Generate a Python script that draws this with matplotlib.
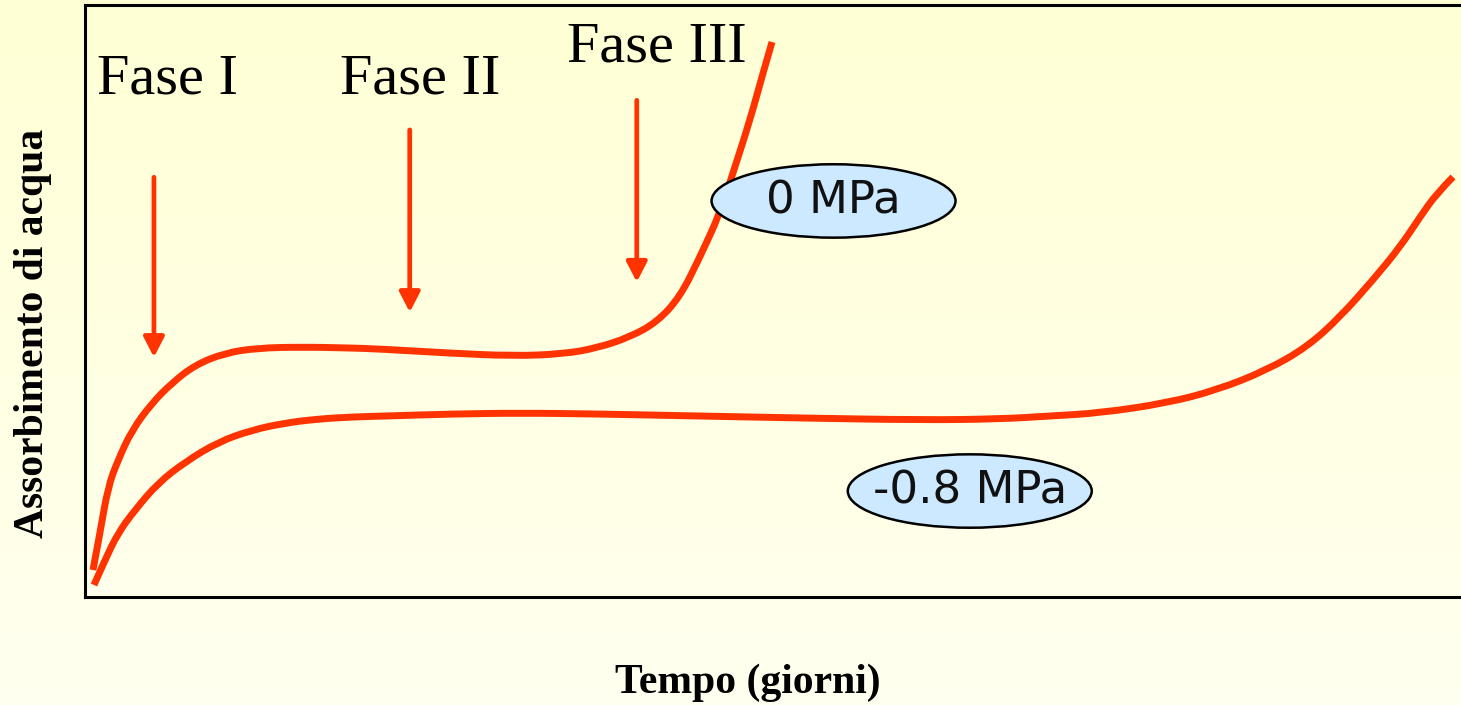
import numpy as np
import matplotlib
matplotlib.use("Agg")
import matplotlib.pyplot as plt
from matplotlib.patches import Ellipse, PathPatch
from matplotlib.path import Path

# Data (time in arbitrary units 0-100, water uptake in arbitrary units 0-100)
t_0mpa = [0.58, 1.09, 1.67, 2.40, 3.42, 4.87, 6.32, 7.99, 10.17, 12.57, 15.77, 19.40, 21.44,
          26.31, 31.10, 34.74, 37.21, 39.61, 41.57, 43.24, 44.69, 46.15, 47.09, 48.33, 49.27, 49.93]
v_0mpa = [4.56, 10.81, 18.58, 23.14, 28.21, 32.77, 36.15, 39.19, 41.22, 42.06, 42.23, 42.06, 41.89,
          41.22, 40.71, 41.05, 42.06, 43.92, 46.45, 50.68, 57.43, 64.86, 71.62, 80.57, 88.51, 93.75]

t_08mpa = [0.65, 1.45, 2.40, 3.63, 5.31, 7.27, 9.67, 12.14, 14.53, 16.93, 19.40, 21.80, 26.53,
           31.69, 37.43, 44.69, 51.96, 60.83, 66.50, 70.13, 73.76, 78.63, 82.27, 85.90, 88.81,
           91.21, 93.60, 95.57, 97.02, 98.26, 99.42]
v_08mpa = [2.03, 6.25, 10.81, 14.70, 19.26, 22.80, 26.18, 28.21, 29.39, 30.07, 30.41, 30.57, 30.91,
           31.08, 30.91, 30.57, 30.24, 29.90, 30.07, 30.57, 31.08, 32.77, 34.97, 38.34, 42.23,
           47.30, 53.55, 59.12, 64.19, 68.24, 70.95]

phase_labels = ["Fase I", "Fase II", "Fase III"]
phase_label_x = [0.87, 18.5, 35.0]
phase_label_y = [85.1, 85.1, 90.4]
arrow_x = [5.01, 23.6, 40.1]
arrow_top = [70.9, 78.9, 83.9]
arrow_bottom = [40.5, 48.1, 53.2]

series_labels = ["0 MPa", "-0.8 MPa"]
label_cx = [54.4, 64.3]
label_cy = [66.9, 17.9]

W, H = 1461, 705
fig = plt.figure(figsize=(W / 100, H / 100), dpi=100)

# background gradient
bg = fig.add_axes([0, 0, 1, 1], zorder=-10)
grad = np.linspace(0, 1, 256).reshape(-1, 1)
top = np.array([1.0, 1.0, 0.835])
bot = np.array([1.0, 1.0, 0.94])
img = top[None, None, :] * (1 - grad[:, :, None]) + bot[None, None, :] * grad[:, :, None]
bg.imshow(img, aspect="auto", extent=[0, 1, 0, 1])
bg.axis("off")

ax = fig.add_axes([85 / W, (H - 597) / H, 1376 / W, 592 / H])
ax.patch.set_alpha(0)
ax.set_xlim(0, 100)
ax.set_ylim(0, 100)
ax.set_xticks([])
ax.set_yticks([])
for s in ["left", "bottom", "top"]:
    ax.spines[s].set_linewidth(2.2)
    ax.spines[s].set_color("black")
ax.spines["right"].set_visible(False)

red = "#FF3300"


def smooth_path(xs, ys):
    """Quadratic Bezier path: data points as control points, midpoints on curve."""
    pts = np.column_stack([xs, ys])
    verts = [pts[0]]
    codes = [Path.MOVETO]
    for i in range(1, len(pts) - 1):
        mid = (pts[i] + pts[i + 1]) / 2 if i < len(pts) - 2 else pts[i + 1]
        verts += [pts[i], mid]
        codes += [Path.CURVE3, Path.CURVE3]
    return Path(verts, codes)


for xs, ys in [(t_0mpa, v_0mpa), (t_08mpa, v_08mpa)]:
    ax.add_patch(PathPatch(smooth_path(xs, ys), facecolor="none", edgecolor=red, lw=5,
                           capstyle="butt", joinstyle="round", clip_on=False))

for lab, x, y in zip(phase_labels, phase_label_x, phase_label_y):
    ax.text(x, y, lab, fontsize=42, family="Liberation Serif", ha="left", va="baseline")

for x, y0, y1 in zip(arrow_x, arrow_top, arrow_bottom):
    ax.annotate("", xy=(x, y1), xytext=(x, y0),
                arrowprops=dict(arrowstyle="-|>,head_length=1.2,head_width=0.62", color=red, lw=3.4,
                                shrinkA=0, shrinkB=0))

for lab, cx, cy in zip(series_labels, label_cx, label_cy):
    e = Ellipse((cx, cy), 17.73, 12.4, facecolor="#CCE9FF", edgecolor="black", lw=1.8, zorder=5)
    ax.add_patch(e)
    ax.text(cx, cy, lab, fontsize=32.5, family="DejaVu Sans", ha="center", va="center", zorder=6,
            color="#111111")

fig.text(33 / W, 1 - 333 / H, "Assorbimento di acqua", rotation=90, fontsize=30,
         family="Liberation Serif", fontweight="bold", ha="center", va="center")
fig.text(748 / W, 1 - 683 / H, "Tempo (giorni)", fontsize=30,
         family="Liberation Serif", fontweight="bold", ha="center", va="center")

fig.savefig("out.png", dpi=100)
